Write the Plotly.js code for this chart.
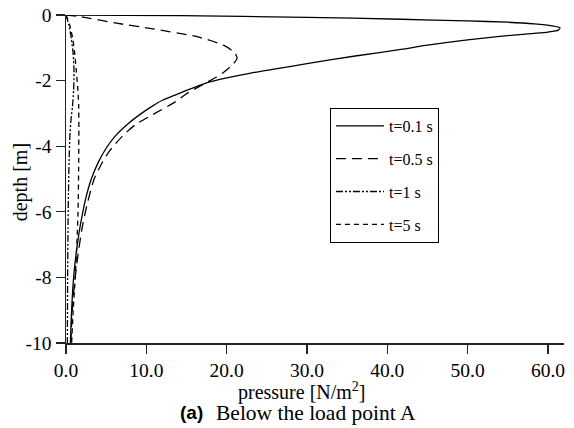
<!DOCTYPE html>
<html>
<head>
<meta charset="utf-8">
<script src="https://cdn.plot.ly/plotly-3.0.1.min.js"></script>
<style>
  html, body { margin: 0; padding: 0; background: #fff; }
  #chart { width: 574px; height: 428px; }
</style>
</head>
<body>
<div id="chart"></div>
<script>
// Pore pressure profiles below the load point A, for four time instants.
// Each profile: pressure [N/m^2] against depth [m].

const seriesNames = ['t=0.1 s', 't=0.5 s', 't=1 s', 't=5 s'];

// t = 0.1 s
const p01 = [0, 14.2, 30, 41.7, 50, 55, 58.3, 60.5, 61.5, 61.3, 60, 58.3, 54, 50, 45, 41.7, 36, 30, 26.7, 23, 20, 17.5, 16.7, 15.0, 13.8, 12.0, 10.6, 9.4, 7.8, 6.1, 4.9, 4.0, 3.15, 2.55, 2.1, 1.65, 1.25, 0.95, 0.7, 0.55];
const d01 = [0, -0.02, -0.07, -0.13, -0.18, -0.22, -0.27, -0.33, -0.39, -0.46, -0.52, -0.56, -0.65, -0.76, -0.92, -1.05, -1.25, -1.48, -1.62, -1.77, -1.92, -2.07, -2.14, -2.3, -2.42, -2.6, -2.8, -3.0, -3.3, -3.7, -4.1, -4.5, -5.0, -5.5, -6.0, -6.6, -7.3, -8.0, -9.0, -10];

// t = 0.5 s
const p05 = [0, 1.75, 6.3, 11, 16.3, 19.6, 21.0, 21.3, 20.8, 19.6, 18.3, 16.9, 15, 13.6, 10.7, 8.6, 7.0, 5.4, 4.4, 3.5, 2.65, 2.0, 1.5, 1.05, 0.75, 0.6];
const d05 = [0, -0.05, -0.25, -0.43, -0.66, -0.92, -1.15, -1.32, -1.5, -1.75, -1.95, -2.14, -2.4, -2.65, -3.05, -3.35, -3.7, -4.15, -4.55, -5.0, -5.75, -6.5, -7.3, -8.2, -9.1, -10];

// t = 1 s
const p1 = [0, 0.35, 0.65, 0.9, 1.0, 0.95, 0.8, 0.62, 0.5, 0.38, 0.3, 0.25, 0.2, 0.17];
const d1 = [0, -0.3, -0.7, -1.2, -1.75, -2.3, -2.8, -3.2, -3.6, -4.5, -5.5, -6.5, -8.0, -10];

// t = 5 s
const p5 = [0, 0.45, 0.83, 1.1, 1.29, 1.45, 1.58, 1.6, 1.58, 1.5, 1.35, 1.15, 0.9, 0.7];
const d5 = [0, -0.3, -0.71, -1.2, -1.73, -2.2, -2.75, -3.5, -4.5, -6.0, -7.0, -8.0, -9.0, -10];

// Axis ticks
const xTickVals = [0, 10, 20, 30, 40, 50, 60];
const xTickText = ['0.0', '10.0', '20.0', '30.0', '40.0', '50.0', '60.0'];
const yTickVals = [0, -2, -4, -6, -8, -10];
const yTickText = ['0', '-2', '-4', '-6', '-8', '-10'];

const serif = 'Liberation Serif';
const sans = 'Liberation Sans';

const xs = [p01, p05, p1, p5];
const ys = [d01, d05, d1, d5];
const dashes = ['solid', '10px,6px', '7px,2px,2px,2px,2px,2px', '5px,4px'];

const traces = seriesNames.map((name, i) => ({
  x: xs[i],
  y: ys[i],
  name: name,
  type: 'scatter',
  mode: 'lines',
  legendgroup: 'g' + i,
  line: { color: '#000', width: 1.3, dash: dashes[i], shape: 'spline', smoothing: 0.6 }
}));

const axisCommon = {
  showline: true,
  linecolor: '#222',
  linewidth: 1.5,
  mirror: false,
  showgrid: false,
  zeroline: false,
  ticks: 'outside',
  ticklen: 9,
  tickwidth: 1.3,
  tickcolor: '#222',
  tickfont: { family: serif, size: 19.5, color: '#000' }
};

const layout = {
  width: 574,
  height: 428,
  margin: { l: 66, r: 10, t: 15, b: 85 },
  paper_bgcolor: '#fff',
  plot_bgcolor: '#fff',
  showlegend: true,
  legend: {
    x: 0.53, y: 0.7165, xanchor: 'left', yanchor: 'top',
    bgcolor: '#fff', bordercolor: '#000', borderwidth: 1,
    font: { family: serif, size: 16, color: '#000' },
    tracegroupgap: 9,
    traceorder: 'grouped',
    itemwidth: 48
  },
  xaxis: Object.assign({}, axisCommon, {
    range: [0, 62.0],
    tickmode: 'array', tickvals: xTickVals, ticktext: xTickText
  }),
  yaxis: Object.assign({}, axisCommon, {
    range: [-10, 0],
    tickmode: 'array', tickvals: yTickVals, ticktext: yTickText
  }),
  annotations: [
    { text: 'pressure [N/m<sup>2</sup>]', xref: 'paper', yref: 'paper',
      x: 0.473, y: -0.149, xanchor: 'center', yanchor: 'middle', showarrow: false,
      font: { family: serif, size: 20, color: '#000' } },
    { text: 'depth [m]', xref: 'paper', yref: 'paper', textangle: -90,
      x: -0.0924, y: 0.49, xanchor: 'center', yanchor: 'middle', showarrow: false,
      font: { family: serif, size: 20, color: '#000' } },
    { text: '<b>(a)</b>', xref: 'paper', yref: 'paper',
      x: 0.2791, y: -0.213, xanchor: 'right', yanchor: 'middle', showarrow: false,
      font: { family: sans, size: 19, color: '#000' } },
    { text: 'Below the load point A', xref: 'paper', yref: 'paper',
      x: 0.2972, y: -0.213, xanchor: 'left', yanchor: 'middle', showarrow: false,
      font: { family: serif, size: 21.5, color: '#000' } }
  ]
};

Plotly.newPlot('chart', traces, layout, { displayModeBar: false, staticPlot: true });
</script>
</body>
</html>
